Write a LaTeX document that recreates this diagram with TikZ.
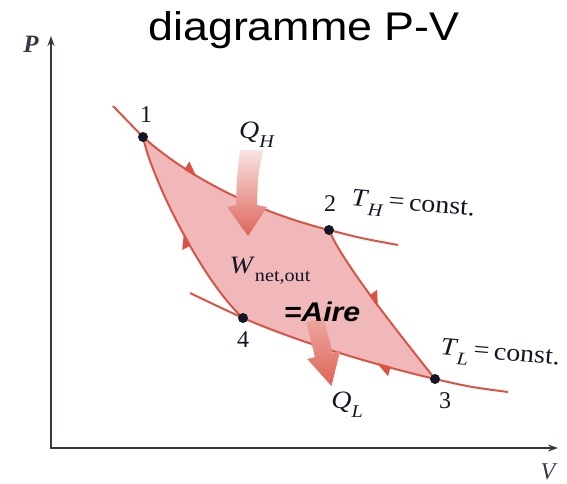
\documentclass[tikz,border=0pt]{standalone}
\usepackage{fontspec}
\setmainfont{Liberation Serif}
\newfontfamily\arial{Liberation Sans}
\usepackage{tikz}
\usetikzlibrary{arrows.meta,decorations.markings}
\usepackage{xcolor}

\definecolor{linered}{RGB}{218,84,70}
\definecolor{cyclepink}{RGB}{240,184,184}
\definecolor{axisgray}{RGB}{55,55,72}
\definecolor{dotblack}{RGB}{20,22,40}
\definecolor{qtop}{RGB}{248,228,228}
\definecolor{qbot}{RGB}{222,100,88}
\definecolor{qltop}{RGB}{236,168,160}

\newcommand{\wide}[1]{\scalebox{1.12}[1]{#1}}
\newcommand{\sublbl}[2]{\textit{#1}\raisebox{-0.35em}{\scalebox{0.72}{#2}}}

\begin{document}
\begin{tikzpicture}[
    x=1pt, y=1pt,
    axis/.style={draw=axisgray, line width=1.4pt, {Stealth[length=10pt,width=7pt]}-{Stealth[length=10pt,width=7pt]}},
    curve/.style={draw=linered, line width=2pt},
    midarrow/.style={postaction={decorate}, decoration={markings,
        mark=at position #1 with {\arrow[linered]{Triangle[harpoon,length=13pt,width=17pt]}}}},
    dotpt/.style={circle, fill=dotblack, inner sep=0pt, minimum size=10pt},
    ptlbl/.style={font=\fontsize{24}{28}\selectfont, text=dotblack},
    mathlbl/.style={font=\fontsize{25}{30}\selectfont, text=dotblack}
]
    \useasboundingbox (0,0) rectangle (567,-484);

    \node[font=\arial\fontsize{40}{48}\selectfont] (title) at (304,-30) {\wide{diagramme P-V}};

    % axes
    \coordinate (orig) at (51,-448);
    \coordinate (ptop) at (51,-36);
    \coordinate (vend) at (558,-448);
    \draw[axis] (ptop) |- (vend);
    \node[font=\fontsize{25}{28}\selectfont\bfseries\itshape, text=axisgray] (plbl) at (31,-44) {P};
    \node[font=\fontsize{24}{28}\selectfont\itshape, text=axisgray] (vlbl) at (548,-472) {V};

    % cycle corners
    \coordinate (p1) at (143,-137);
    \coordinate (p2) at (329,-230);
    \coordinate (p3) at (435,-379);
    \coordinate (p4) at (243,-318);
    \coordinate (thS) at (113,-106);
    \coordinate (thE) at (398,-245);
    \coordinate (tlS) at (190,-293);
    \coordinate (tlE) at (508,-392);

    \fill[cyclepink] (p1) .. controls (195,-183) and (265,-214) .. (p2)
        .. controls (343,-264) and (405,-341) .. (p3)
        .. controls (380,-366) and (303,-344) .. (p4)
        .. controls (203,-282) and (152,-180) .. (p1) -- cycle;

    % isotherms
    \draw[curve] (thS) .. controls (128,-122) .. (p1);
    \draw[curve] (p2) .. controls (360,-238) .. (thE);
    \draw[curve] (tlS) .. controls (215,-305) .. (p4);
    \draw[curve] (p3) .. controls (470,-387) .. (tlE);

    % cycle
    \draw[curve, midarrow=0.32] (p1) .. controls (195,-183) and (265,-214) .. (p2);
    \draw[curve, midarrow=0.5] (p2) .. controls (343,-264) and (405,-341) .. (p3);
    \draw[curve, midarrow=0.3] (p3) .. controls (380,-366) and (303,-344) .. (p4);
    \draw[curve, midarrow=0.5] (p4) .. controls (203,-282) and (152,-180) .. (p1);

    % heat arrows
    \shade[top color=qtop, bottom color=qbot] (240,-150) .. controls (237,-175) .. (236,-205)
        -- (227,-207) -- (248,-236) -- (267,-207) -- (257,-205)
        .. controls (258,-175) .. (263,-150) -- cycle;
    \begin{scope}[shift={(315,-320)}, rotate=14]
        \shade[top color=qltop, bottom color=qbot] (-9,0) -- (-9,-36) -- (-17,-36) -- (0,-68)
            -- (17,-36) -- (9,-36) -- (9,0) -- cycle;
    \end{scope}

    \node[dotpt] (d1) at (p1) {};
    \node[dotpt] (d2) at (p2) {};
    \node[dotpt] (d3) at (p3) {};
    \node[dotpt] (d4) at (p4) {};

    \node[ptlbl] (n1) at (146,-115) {1};
    \node[ptlbl] (n2) at (330,-204) {2};
    \node[ptlbl] (n3) at (445,-401) {3};
    \node[ptlbl] (n4) at (243,-340) {4};

    \node[mathlbl] (qh) at (257,-135) {\wide{\sublbl{Q}{\textit{H}}}};
    \node[mathlbl] (ql) at (347,-405) {\wide{\sublbl{Q}{\textit{L}}}};
    \node[mathlbl, anchor=base west] (wnet) at (226,-273) {\wide{\sublbl{W}{net,out}}};
    \node[font=\arial\fontsize{27}{32}\selectfont\bfseries\itshape] (aire) at (322,-312) {\wide{=Aire}};

    \node[mathlbl, rotate=-5] (th) at (413,-207) {\wide{\sublbl{T}{\textit{H}}\,=\,const.}};
    \node[mathlbl, rotate=-5] (tl) at (500,-356) {\wide{\sublbl{T}{\textit{L}}\,=\,const.}};
\end{tikzpicture}
\end{document}
